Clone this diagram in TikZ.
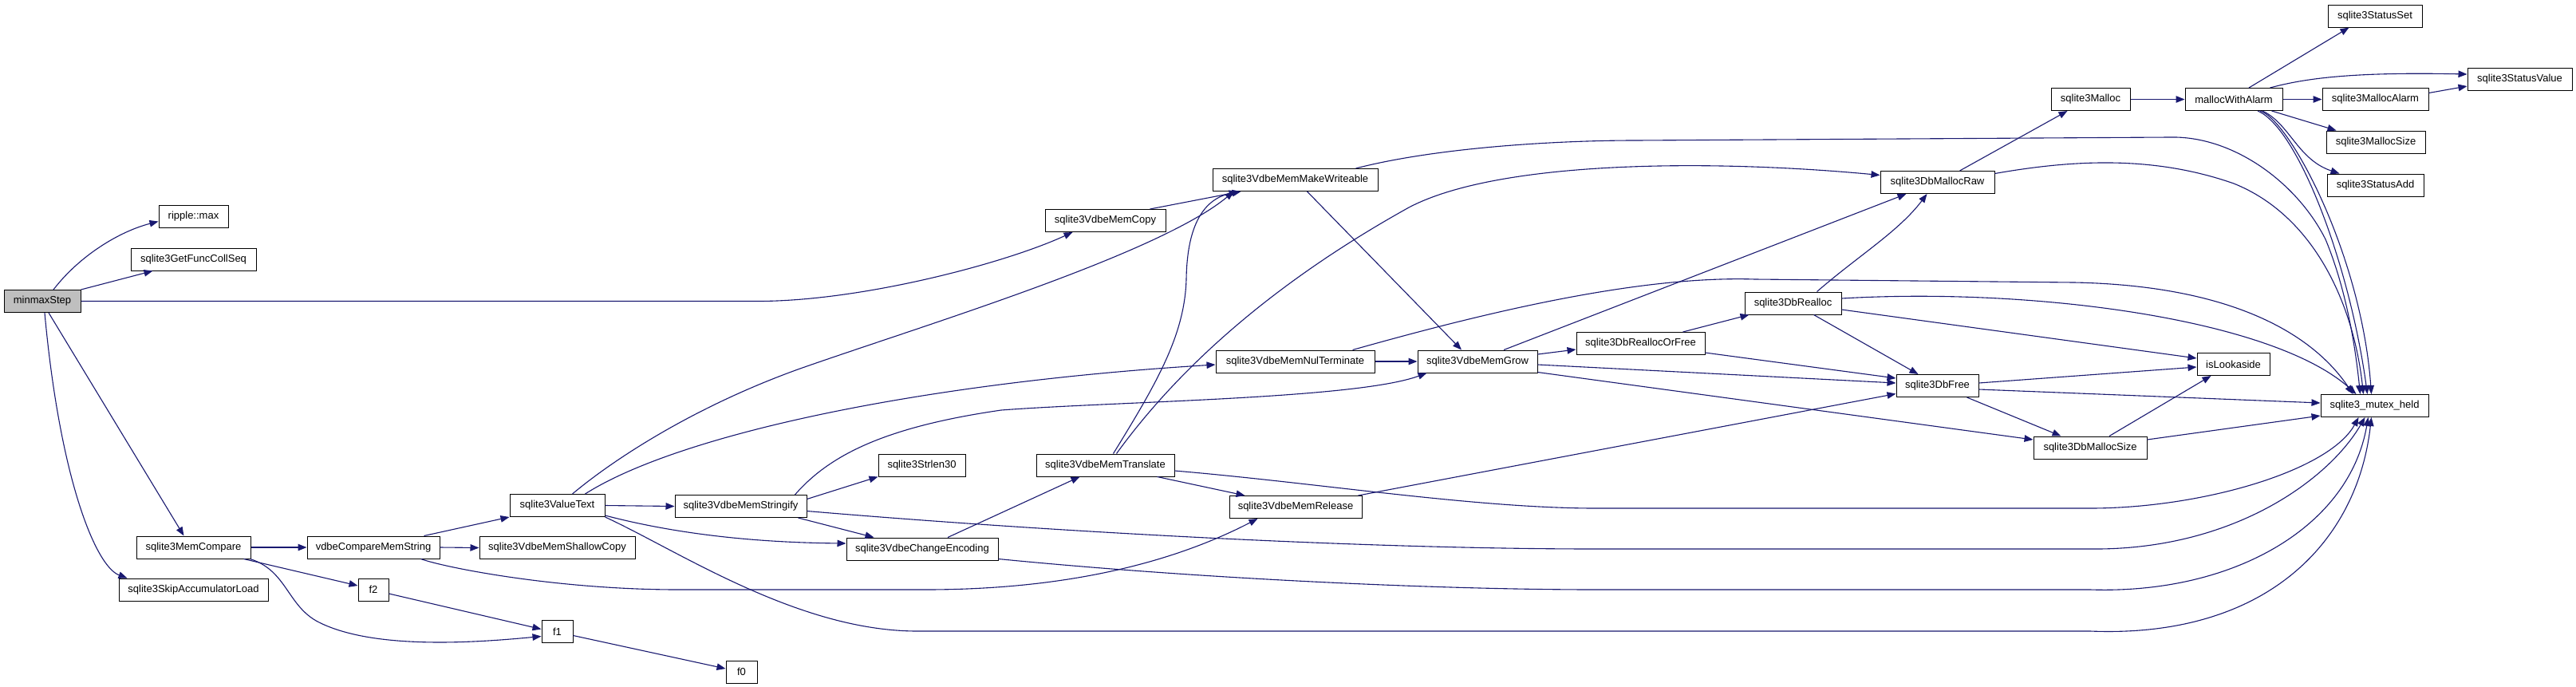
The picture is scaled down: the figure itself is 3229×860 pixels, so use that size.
\documentclass[tikz,border=0pt]{standalone}
\usepackage{fontspec}
\setmainfont{Liberation Sans}
\usetikzlibrary{arrows.meta}
\definecolor{edgeblue}{HTML}{191970}
\definecolor{rootgray}{HTML}{BFBFBF}
\tikzset{
  fn/.style={draw=black, line width=1pt, fill=white, minimum height=28pt,
    inner sep=0pt, font=\fontsize{13}{15}\selectfont},
  rootfn/.style={fn, fill=rootgray},
  call/.style={draw=edgeblue, line width=1.1pt,
    -{Triangle[length=11pt,width=8.5pt,fill=edgeblue]}}
}
\begin{document}
\begin{tikzpicture}[x=1pt,y=-1pt]
\fill[white] (0,0) rectangle (3229,860);
\useasboundingbox (0,0) rectangle (3229,860);
% nodes
\node[rootfn, minimum width=96pt] (minmaxStep) at (53,377.5) {minmaxStep};
\node[fn, minimum width=87pt] (ripple) at (242.5,271.5) {ripple::max};
\node[fn, minimum width=157pt] (GetFuncCollSeq) at (242.5,325) {sqlite3GetFuncCollSeq};
\node[fn, minimum width=143pt] (MemCompare) at (242.5,686) {sqlite3MemCompare};
\node[fn, minimum width=187pt] (Skip) at (242.5,739) {sqlite3SkipAccumulatorLoad};
\node[fn, minimum width=166pt] (vdbeCMS) at (468,686) {vdbeCompareMemString};
\node[fn, minimum width=38pt] (f2) at (468,739) {f2};
\node[fn, minimum width=195pt] (ShallowCopy) at (698.5,686.5) {sqlite3VdbeMemShallowCopy};
\node[fn, minimum width=119pt] (ValueText) at (698.5,633.5) {sqlite3ValueText};
\node[fn, minimum width=39pt] (f1) at (698.5,791.5) {f1};
\node[fn, minimum width=165pt] (Stringify) at (928.5,634.5) {sqlite3VdbeMemStringify};
\node[fn, minimum width=39pt] (f0) at (929.5,842) {f0};
\node[fn, minimum width=109pt] (Strlen30) at (1155.5,583) {sqlite3Strlen30};
\node[fn, minimum width=190pt] (ChangeEncoding) at (1156,688) {sqlite3VdbeChangeEncoding};
\node[fn, minimum width=151pt] (VdbeMemCopy) at (1385.5,276.5) {sqlite3VdbeMemCopy};
\node[fn, minimum width=173pt] (MemTranslate) at (1385.5,583) {sqlite3VdbeMemTranslate};
\node[fn, minimum width=207pt] (MakeWriteable) at (1623.5,225.5) {sqlite3VdbeMemMakeWriteable};
\node[fn, minimum width=199pt] (NulTerminate) at (1623.5,453) {sqlite3VdbeMemNulTerminate};
\node[fn, minimum width=166pt] (MemRelease) at (1624,635.5) {sqlite3VdbeMemRelease};
\node[fn, minimum width=150pt] (Grow) at (1852,453) {sqlite3VdbeMemGrow};
\node[fn, minimum width=161pt] (DbReallocOrFree) at (2056.5,430.5) {sqlite3DbReallocOrFree};
\node[fn, minimum width=121pt] (DbRealloc) at (2247.5,380) {sqlite3DbRealloc};
\node[fn, minimum width=143pt] (DbMallocRaw) at (2428.5,228.5) {sqlite3DbMallocRaw};
\node[fn, minimum width=103pt] (DbFree) at (2428.5,483.5) {sqlite3DbFree};
\node[fn, minimum width=99pt] (Malloc) at (2620.5,124.5) {sqlite3Malloc};
\node[fn, minimum width=142pt] (DbMallocSize) at (2620,561) {sqlite3DbMallocSize};
\node[fn, minimum width=122pt] (mallocWithAlarm) at (2800,124.5) {mallocWithAlarm};
\node[fn, minimum width=91pt] (isLookaside) at (2799.5,456.5) {isLookaside};
\node[fn, minimum width=118pt] (StatusSet) at (2977,20) {sqlite3StatusSet};
\node[fn, minimum width=133pt] (MallocAlarm) at (2977.5,124.5) {sqlite3MallocAlarm};
\node[fn, minimum width=124pt] (MallocSize) at (2978,178) {sqlite3MallocSize};
\node[fn, minimum width=121pt] (StatusAdd) at (2977.5,232) {sqlite3StatusAdd};
\node[fn, minimum width=135pt] (mutex) at (2976.5,508.5) {sqlite3\_mutex\_held};
\node[fn, minimum width=131pt] (StatusValue) at (3158.5,99.5) {sqlite3StatusValue};
% edges
\draw[call] ([xshift=14pt]minmaxStep.north) .. controls (100,320) and (150,290) .. ([yshift=-6pt]ripple.west);
\draw[call] (minmaxStep.north east) -- ([xshift=28pt]GetFuncCollSeq.south west);
\draw[call] (minmaxStep.east) -- (950,377.5) .. controls (1080,377.5) and (1260,330) .. ([xshift=35pt]VdbeMemCopy.south west);
\draw[call] ([xshift=8pt]minmaxStep.south) -- ([xshift=-12pt]MemCompare.north);
\draw[call] ([xshift=3pt]minmaxStep.south) .. controls (75,600) and (120,710) .. ([xshift=11pt]Skip.north west);
\draw[call] (MemCompare.east) -- (vdbeCMS.west);
\draw[call] ([xshift=-9pt]MemCompare.south east) -- ([yshift=5pt]f2.west);
\draw[call] ([xshift=-1pt]MemCompare.south east) .. controls (360,715) and (360,760) .. (400,780) .. controls (470,815) and (600,805) .. ([yshift=-6pt]f1.west);
\draw[call] ([yshift=-5pt]f2.east) -- ([yshift=3pt]f1.west);
\draw[call] ([yshift=-5pt]f1.east) -- ([yshift=4pt]f0.west);
\draw[call] ([xshift=-20pt]vdbeCMS.north east) -- (ValueText.south west);
\draw[call] (vdbeCMS.east) -- (ShallowCopy.west);
\draw[call] ([xshift=-24pt]vdbeCMS.south east) .. controls (560,712) and (700,739) .. (850,739) -- (1160,739) .. controls (1350,739) and (1480,700) .. ([xshift=36pt]MemRelease.south west);
\draw[call] ([xshift=19pt]ValueText.north) .. controls (770,575) and (870,510) .. (1000,463) .. controls (1150,410) and (1450,320) .. ([xshift=27pt]MakeWriteable.south west);
\draw[call] ([xshift=35pt]ValueText.north) .. controls (850,545) and (1150,480) .. ([yshift=-4pt]NulTerminate.west);
\draw[call] (ValueText.east) -- (Stringify.west);
\draw[call] ([yshift=2pt]ValueText.south east) .. controls (850,670) and (950,680) .. ([yshift=7pt]ChangeEncoding.west);
\draw[call] (ValueText.south east) .. controls (850,690) and (1000,791) .. (1150,791) -- (2620,791) .. controls (2840,800) and (2955,680) .. ([xshift=-4pt]mutex.south);
\draw[call] ([xshift=-15pt]Stringify.north east) .. controls (1040,570) and (1110,535) .. (1255,514) .. controls (1400,503) and (1700,500) .. ([xshift=12pt]Grow.south west);
\draw[call] ([yshift=9pt]Stringify.east) -- (Strlen30.south west);
\draw[call] ([xshift=-11pt]Stringify.south east) -- ([xshift=35pt]ChangeEncoding.north west);
\draw[call] ([yshift=-6pt]Stringify.east) .. controls (1300,665) and (1700,688) .. (2000,688) -- (2620,688) .. controls (2800,690) and (2920,600) .. ([xshift=-12pt]mutex.south);
\draw[call] ([xshift=32pt]ChangeEncoding.north) -- ([xshift=55pt]MemTranslate.south west);
\draw[call] ([yshift=2pt]ChangeEncoding.south east) .. controls (1500,725) and (1800,739) .. (2000,739) -- (2620,739) .. controls (2800,745) and (2945,660) .. ([xshift=-8pt]mutex.south);
\draw[call] ([xshift=10pt]MemTranslate.north) .. controls (1450,480) and (1485,420) .. (1487,350) .. controls (1488,280) and (1510,250) .. ([xshift=32pt]MakeWriteable.south west);
\draw[call] ([xshift=14pt]MemTranslate.north) .. controls (1500,430) and (1640,330) .. (1766,260) .. controls (1880,200) and (2150,200) .. ([yshift=9pt]DbMallocRaw.west);
\draw[call] ([xshift=-22pt]MemTranslate.south east) -- ([xshift=20pt]MemRelease.north west);
\draw[call] ([yshift=-7pt]MemTranslate.east) .. controls (1650,605) and (1850,637) .. (2000,637) -- (2620,637) .. controls (2760,637) and (2920,590) .. ([xshift=-20pt]mutex.south);
\draw[call] ([xshift=-5pt]MemRelease.north east) -- ([yshift=-10pt]DbFree.west);
\draw[call] (NulTerminate.east) -- (Grow.west);
\draw[call] ([xshift=-28pt]NulTerminate.north east) .. controls (1850,395) and (2050,345) .. (2200,350) -- (2600,354) .. controls (2800,358) and (2900,420) .. ([xshift=-27pt]mutex.north);
\draw[call] ([xshift=33pt]Grow.north) -- ([xshift=33pt]DbMallocRaw.south west);
\draw[call] ([yshift=9pt]Grow.east) -- ([yshift=-7.5pt]DbReallocOrFree.west);
\draw[call] ([yshift=-4pt]Grow.east) -- ([yshift=3.5pt]DbFree.west);
\draw[call] ([yshift=1pt]Grow.south east) -- ([yshift=10pt]DbMallocSize.west);
\draw[call] ([xshift=-28pt]DbReallocOrFree.north east) -- ([xshift=6pt]DbRealloc.south west);
\draw[call] ([yshift=3pt]DbReallocOrFree.south east) -- ([yshift=9.5pt]DbFree.west);
\draw[call] ([xshift=30pt]DbRealloc.north) .. controls (2330,320) and (2380,290) .. ([xshift=-13pt]DbMallocRaw.south);
\draw[call] ([xshift=26pt]DbRealloc.south) -- ([xshift=-24pt]DbFree.north);
\draw[call] ([yshift=-8pt]DbRealloc.east) -- ([yshift=7.5pt]isLookaside.west);
\draw[call] ([yshift=6pt]DbRealloc.east) .. controls (2550,360) and (2850,400) .. ([xshift=-23pt]mutex.north);
\draw[call] ([xshift=28pt]DbMallocRaw.north) -- ([xshift=21pt]Malloc.south west);
\draw[call] ([yshift=11pt]DbMallocRaw.east) .. controls (2600,200) and (2700,195) .. (2800,230) .. controls (2900,270) and (2950,380) .. ([xshift=-14pt]mutex.north);
\draw[call] ([xshift=15pt]MakeWriteable.south) -- ([xshift=-20pt]Grow.north);
\draw[call] ([xshift=-28pt]MakeWriteable.north east) .. controls (1800,185) and (1950,176) .. (2050,176) -- (2720,172) .. controls (2800,170) and (2880,230) .. (2915,300) .. controls (2940,360) and (2952,430) .. ([xshift=-18pt]mutex.north);
\draw[call] (Malloc.east) -- (mallocWithAlarm.west);
\draw[call] ([xshift=19pt]mallocWithAlarm.north) -- ([xshift=27pt]StatusSet.south west);
\draw[call] ([xshift=-16pt]mallocWithAlarm.north east) .. controls (2890,98) and (2950,90) .. ([yshift=6.5pt]StatusValue.west);
\draw[call] (mallocWithAlarm.east) -- (MallocAlarm.west);
\draw[call] ([xshift=-14pt]mallocWithAlarm.south east) -- ([xshift=13pt]MallocSize.north west);
\draw[call] ([xshift=36pt]mallocWithAlarm.south) .. controls (2870,155) and (2880,200) .. ([xshift=16pt]StatusAdd.north west);
\draw[call] ([xshift=30pt]mallocWithAlarm.south) .. controls (2880,160) and (2945,330) .. ([xshift=-9pt]mutex.north);
\draw[call] ([xshift=33pt]mallocWithAlarm.south) .. controls (2870,150) and (2960,320) .. ([xshift=-4pt]mutex.north);
\draw[call] ([yshift=8pt]MallocAlarm.east) -- ([yshift=-8.5pt]StatusValue.west);
\draw[call] ([yshift=3.5pt]DbFree.east) -- ([yshift=-3.5pt]isLookaside.west);
\draw[call] ([yshift=-4.5pt]DbFree.east) -- ([yshift=3.5pt]mutex.west);
\draw[call] ([xshift=-15pt]DbFree.south east) -- ([xshift=35pt]DbMallocSize.north west);
\draw[call] ([xshift=24pt]DbMallocSize.north) -- ([xshift=18pt]isLookaside.south west);
\draw[call] ([yshift=10pt]DbMallocSize.east) -- ([yshift=2pt]mutex.south west);
\draw[call] ([xshift=-20pt]VdbeMemCopy.north east) -- ([xshift=36pt]MakeWriteable.south west);
\end{tikzpicture}
\end{document}
